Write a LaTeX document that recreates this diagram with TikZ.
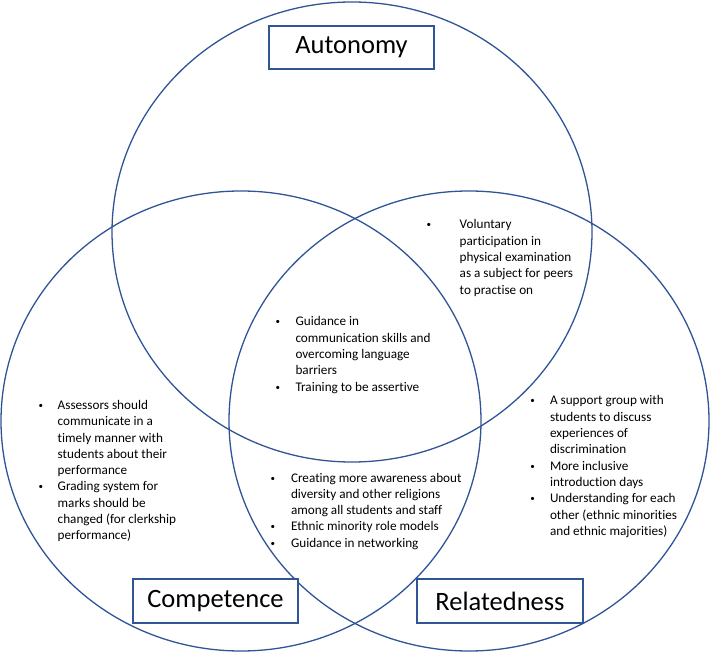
\documentclass[tikz,border=0pt]{standalone}
\usepackage{fontspec}
\setmainfont[Ligatures=NoCommon]{Carlito}
\usepackage{graphicx}
\usetikzlibrary{shapes.geometric}
\definecolor{vblue}{RGB}{47,85,151}
\tikzset{
  setcircle/.style={draw=vblue, line width=1.3pt, ellipse, minimum width=480pt, minimum height=460pt, inner sep=0pt},
  titlebox/.style={draw=vblue, line width=1.3pt, fill=white, inner sep=0pt, font=\fontsize{26.5}{30}\selectfont},
  listtext/.style={inner sep=0pt, anchor=base west, font=\fontsize{13.2}{16.3}\selectfont, align=left},
}
\newcommand{\bul}{\raisebox{1pt}{\fontsize{9}{9}\selectfont\textbullet}}
\begin{document}
\begin{tikzpicture}[x=1pt,y=-1pt]
\useasboundingbox (0,0) rectangle (710,652);
\node[setcircle] (aut) at (352,232) {};
\node[setcircle] (comp) at (241,421) {};
\node[setcircle] (rel) at (469,421) {};

\node[titlebox, minimum width=165pt, minimum height=43pt] (autbox) at (351.5,47.5) {Autonomy};
\node[titlebox, minimum width=165pt, minimum height=44pt] (compbox) at (215.5,601) {Competence};
\node[titlebox, minimum width=166pt, minimum height=44pt] (relbox) at (500,601) {Relatedness};

\node[listtext] (tr) at (426.5,229) {\begin{tabular}[t]{@{}p{33pt}@{}l@{}}
\bul & Voluntary\\
 & participation in\\
 & physical examination\\
 & as a subject for peers\\
 & to practise on
\end{tabular}};

\node[listtext] (mid) at (275.5,326) {\begin{tabular}[t]{@{}p{19.8pt}@{}l@{}}
\bul & Guidance in\\
 & communication skills and\\
 & overcoming language\\
 & barriers\\
\bul & Training to be assertive
\end{tabular}};

\node[listtext] (left) at (38.5,409.5) {\begin{tabular}[t]{@{}p{19pt}@{}l@{}}
\bul & Assessors should\\
 & communicate in a\\
 & timely manner with\\
 & students about their\\
 & performance\\
\bul & Grading system for\\
 & marks should be\\
 & changed (for clerkship\\
 & performance)
\end{tabular}};

\node[listtext] (bot) at (270.5,482) {\begin{tabular}[t]{@{}p{20.3pt}@{}l@{}}
\bul & Creating more awareness about\\
 & diversity and other religions\\
 & among all students and staff\\
\bul & Ethnic minority role models\\
\bul & Guidance in networking
\end{tabular}};

\node[listtext] (right) at (530.2,405) {\begin{tabular}[t]{@{}p{19.6pt}@{}l@{}}
\bul & A support group with\\
 & students to discuss\\
 & experiences of\\
 & discrimination\\
\bul & More inclusive\\
 & introduction days\\
\bul & Understanding for each\\
 & other (ethnic minorities\\
 & and ethnic majorities)
\end{tabular}};
\end{tikzpicture}
\end{document}
